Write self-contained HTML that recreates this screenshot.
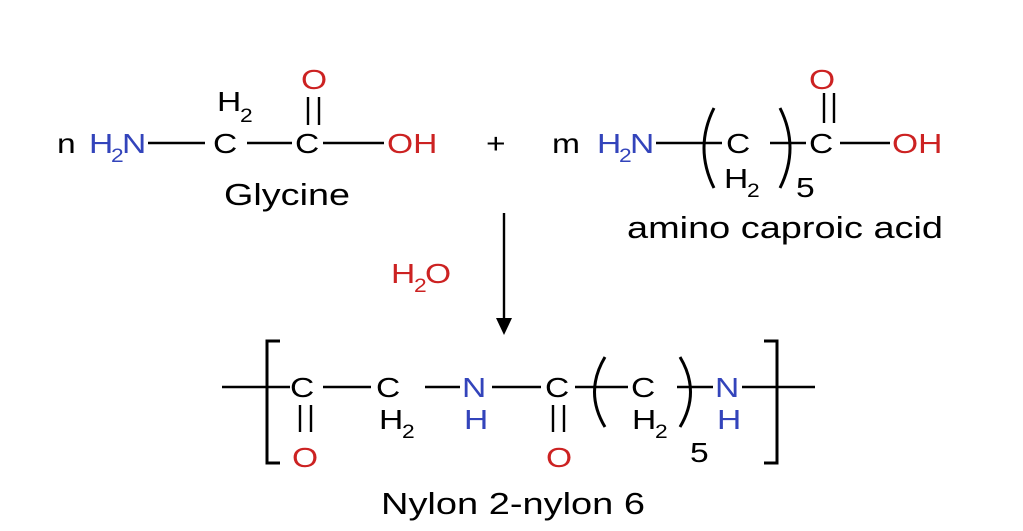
<!DOCTYPE html>
<html><head><meta charset="utf-8"><style>
html,body{margin:0;padding:0;background:#fff;}
svg{display:block;}
text{font-family:"Liberation Sans",sans-serif;}
.k{fill:#000}.b{fill:#3344bb}.r{fill:#cc2222}
.a{font-size:28px}.s{font-size:19px}.l{font-size:31px}
</style></head><body>
<svg width="1023" height="531" viewBox="0 0 1023 531" xmlns="http://www.w3.org/2000/svg">
<g stroke="#000" stroke-width="2.4" fill="none">
<line x1="148" y1="143" x2="205" y2="143"/>
<line x1="247" y1="143" x2="292" y2="143"/>
<line x1="323" y1="143" x2="384" y2="143"/>
<line x1="308" y1="97" x2="308" y2="125"/>
<line x1="319" y1="97" x2="319" y2="125"/>
<line x1="656" y1="143" x2="722" y2="143"/>
<line x1="770" y1="143" x2="806" y2="143"/>
<line x1="840" y1="143" x2="890" y2="143"/>
<line x1="824" y1="93" x2="824" y2="123"/>
<line x1="834" y1="93" x2="834" y2="123"/>
<path d="M714 108 Q694 148 714 188" stroke-width="3"/>
<path d="M780 108 Q800 148 780 188" stroke-width="3"/>
<line x1="504" y1="213" x2="504" y2="320"/>
<line x1="222" y1="387" x2="290" y2="387"/>
<line x1="323" y1="387" x2="371" y2="387"/>
<line x1="425" y1="387" x2="460" y2="387"/>
<line x1="492" y1="387" x2="541" y2="387"/>
<line x1="575" y1="387" x2="628" y2="387"/>
<line x1="677" y1="387" x2="713" y2="387"/>
<line x1="742" y1="387" x2="815" y2="387"/>
<line x1="300" y1="405" x2="300" y2="432"/>
<line x1="311" y1="405" x2="311" y2="432"/>
<line x1="553" y1="405" x2="553" y2="432"/>
<line x1="564" y1="405" x2="564" y2="432"/>
<path d="M605 357 Q584 392 605 427" stroke-width="3"/>
<path d="M680 357 Q701 392 680 427" stroke-width="3"/>
<path d="M280 341 L267 341 L267 463 L280 463" stroke-width="3"/>
<path d="M764 341 L777 341 L777 463 L764 463" stroke-width="3"/>
</g>
<polygon points="496,318 512,318 504,335" fill="#000"/>
<text class="a k" transform="translate(57 153) scale(1.2 1)">n</text>
<text class="a b" transform="translate(89 153) scale(1.2 1)">H</text>
<text class="s b" transform="translate(111 162) scale(1.2 1)">2</text>
<text class="a b" transform="translate(122 153) scale(1.2 1)">N</text>
<text class="a k" transform="translate(213 153) scale(1.2 1)">C</text>
<text class="a k" transform="translate(217 111) scale(1.2 1)">H</text>
<text class="s k" transform="translate(240 122) scale(1.2 1)">2</text>
<text class="a k" transform="translate(295 153) scale(1.2 1)">C</text>
<text class="a r" transform="translate(301 89) scale(1.2 1)">O</text>
<text class="a r" transform="translate(387 153) scale(1.2 1)">OH</text>
<text class="l k" x="224" y="205" textLength="126" lengthAdjust="spacingAndGlyphs">Glycine</text>
<text class="a k" transform="translate(486 153) scale(1.2 1)">+</text>
<text class="a k" transform="translate(552 153) scale(1.2 1)">m</text>
<text class="a b" transform="translate(597 153) scale(1.2 1)">H</text>
<text class="s b" transform="translate(619 162) scale(1.2 1)">2</text>
<text class="a b" transform="translate(630 153) scale(1.2 1)">N</text>
<text class="a k" transform="translate(726 153) scale(1.2 1)">C</text>
<text class="a k" transform="translate(724 188) scale(1.2 1)">H</text>
<text class="s k" transform="translate(747 197) scale(1.2 1)">2</text>
<text class="a k" transform="translate(796 197) scale(1.2 1)">5</text>
<text class="a k" transform="translate(809 153) scale(1.2 1)">C</text>
<text class="a r" transform="translate(809 89) scale(1.2 1)">O</text>
<text class="a r" transform="translate(892 153) scale(1.2 1)">OH</text>
<text class="l k" x="627" y="238" textLength="316" lengthAdjust="spacingAndGlyphs">amino caproic acid</text>
<text class="a r" transform="translate(391 283) scale(1.2 1)">H</text>
<text class="s r" transform="translate(414 292) scale(1.2 1)">2</text>
<text class="a r" transform="translate(425 283) scale(1.2 1)">O</text>
<text class="a k" transform="translate(290 397) scale(1.2 1)">C</text>
<text class="a r" transform="translate(292 467) scale(1.2 1)">O</text>
<text class="a k" transform="translate(376 397) scale(1.2 1)">C</text>
<text class="a k" transform="translate(379 429) scale(1.2 1)">H</text>
<text class="s k" transform="translate(402 438) scale(1.2 1)">2</text>
<text class="a b" transform="translate(462 397) scale(1.2 1)">N</text>
<text class="a b" transform="translate(464 429) scale(1.2 1)">H</text>
<text class="a k" transform="translate(545 397) scale(1.2 1)">C</text>
<text class="a r" transform="translate(546 467) scale(1.2 1)">O</text>
<text class="a k" transform="translate(631 397) scale(1.2 1)">C</text>
<text class="a k" transform="translate(632 429) scale(1.2 1)">H</text>
<text class="s k" transform="translate(655 438) scale(1.2 1)">2</text>
<text class="a k" transform="translate(690 462) scale(1.2 1)">5</text>
<text class="a b" transform="translate(715 397) scale(1.2 1)">N</text>
<text class="a b" transform="translate(717 429) scale(1.2 1)">H</text>
<text class="l k" x="381" y="514" textLength="264" lengthAdjust="spacingAndGlyphs">Nylon 2-nylon 6</text>
</svg>
</body></html>
